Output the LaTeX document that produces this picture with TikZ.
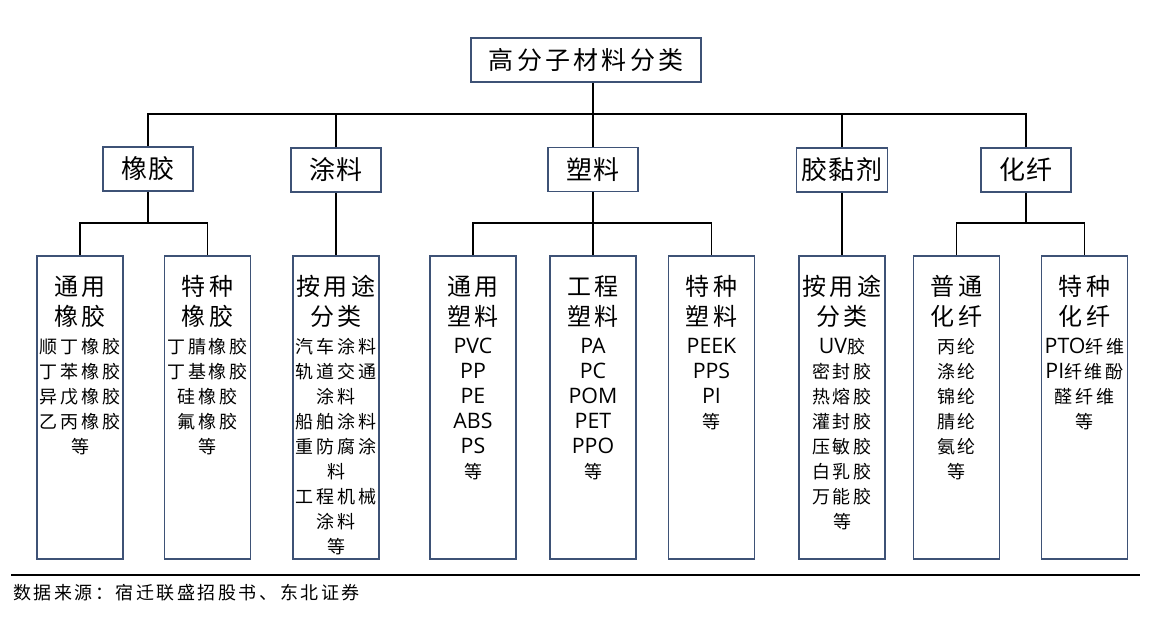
\documentclass[tikz,border=0pt]{standalone}
\usepackage{fontspec}
\usetikzlibrary{calc}
\setmainfont{Open Sans}
\newfontfamily\cjktop[LetterSpace=13]{Noto Sans CJK SC}
\newfontfamily\cjkmid[LetterSpace=4]{Noto Sans CJK SC}
\newfontfamily\cjktit[LetterSpace=14]{Noto Sans CJK SC}
\newfontfamily\cjkitm[LetterSpace=15]{Noto Sans CJK SC}
\newfontfamily\cjksrc[LetterSpace=14]{Noto Sans CJK SC}
\newfontfamily\latitm{Open Sans}
\definecolor{boxblue}{RGB}{62,82,118}
\newcommand\Ltitle{\cjktit\fontsize{18pt}{18pt}\selectfont}
\newcommand\Litem{\cjkitm\fontsize{13.5pt}{13.5pt}\selectfont}
\newcommand\Llat{\latitm\fontsize{16pt}{16pt}\selectfont}
\newcommand\leafrow[1]{\hbox to 64.5pt{\hss#1\hss}}
\newcommand\Lbody[1]{\vtop{\lineskiplimit=-\maxdimen\baselineskip=22.5pt #1}}
\newcommand\Lfirst{\baselineskip=21.6pt }
\newcommand\Lrest{\baselineskip=18.75pt }
\tikzset{
  x=0.75pt, y=-0.75pt,
  topbox/.style={draw=boxblue, line width=1.4pt, minimum width=172.5pt, minimum height=33pt, inner sep=0pt,
    font=\cjktop\fontsize{18.75pt}{18.75pt}\selectfont},
  midbox/.style={draw=boxblue, line width=1.4pt, minimum width=67.5pt, minimum height=33pt, inner sep=0pt,
    font=\cjkmid\fontsize{19.5pt}{19.5pt}\selectfont},
  leafbox/.style={draw=boxblue, line width=1.4pt, minimum width=64.5pt, minimum height=227.25pt, inner sep=0pt},
  leaftext/.style={anchor=base, inner sep=0pt},
  conn/.style={draw=black, line width=1.2pt},
}
\begin{document}
\begin{tikzpicture}
\useasboundingbox (0,0) rectangle (1154,627);
% top
\node[topbox] (top) at (586,60) {高分子材料分类};
% level 2
\node[midbox] (rb) at (148,169) {橡胶};
\node[midbox] (tl) at (336,170) {涂料};
\node[midbox] (pl) at (593,169.5) {塑料};
\node[midbox, minimum width=68.25pt] (jn) at (842,170) {胶黏剂};
\node[midbox] (hx) at (1026,170) {化纤};
% leaves
\node[leafbox] (l1) at (80,407.5) {};
\node[leafbox] (l2) at (207.5,407.5) {};
\node[leafbox] (l3) at (336,407.5) {};
\node[leafbox] (l4) at (473,407.5) {};
\node[leafbox] (l5) at (593,407.5) {};
\node[leafbox] (l6) at (711.5,407.5) {};
\node[leafbox] (l7) at (842,407.5) {};
\node[leafbox] (l8) at (956.5,407.5) {};
\node[leafbox] (l9) at (1084.5,407.5) {};
% leaf texts
\node[leaftext] (t1) at ($(l1.north)+(0,40)$) {\Lbody{\leafrow{\Ltitle 通用}\leafrow{\Ltitle 橡胶}\Lfirst
  \leafrow{\Litem 顺丁橡胶}\Lrest\leafrow{\Litem 丁苯橡胶}\leafrow{\Litem 异戊橡胶}\leafrow{\Litem 乙丙橡胶}\leafrow{\Litem 等}}};
\node[leaftext] (t2) at ($(l2.north)+(0,40)$) {\Lbody{\leafrow{\Ltitle 特种}\leafrow{\Ltitle 橡胶}\Lfirst
  \leafrow{\Litem 丁腈橡胶}\Lrest\leafrow{\Litem 丁基橡胶}\leafrow{\Litem 硅橡胶}\leafrow{\Litem 氟橡胶}\leafrow{\Litem 等}}};
\node[leaftext] (t3) at ($(l3.north)+(0,40)$) {\Lbody{\leafrow{\Ltitle 按用途}\leafrow{\Ltitle 分类}\Lfirst
  \leafrow{\Litem 汽车涂料}\Lrest\leafrow{\Litem 轨道交通}\leafrow{\Litem 涂料}\leafrow{\Litem 船舶涂料}\leafrow{\Litem 重防腐涂}\leafrow{\Litem 料}\leafrow{\Litem 工程机械}\leafrow{\Litem 涂料}\leafrow{\Litem 等}}};
\node[leaftext] (t4) at ($(l4.north)+(0,40)$) {\Lbody{\leafrow{\Ltitle 通用}\leafrow{\Ltitle 塑料}\Lfirst
  \leafrow{\Llat PVC}\Lrest\leafrow{\Llat PP}\leafrow{\Llat PE}\leafrow{\Llat ABS}\leafrow{\Llat PS}\leafrow{\Litem 等}}};
\node[leaftext] (t5) at ($(l5.north)+(0,40)$) {\Lbody{\leafrow{\Ltitle 工程}\leafrow{\Ltitle 塑料}\Lfirst
  \leafrow{\Llat PA}\Lrest\leafrow{\Llat PC}\leafrow{\Llat POM}\leafrow{\Llat PET}\leafrow{\Llat PPO}\leafrow{\Litem 等}}};
\node[leaftext] (t6) at ($(l6.north)+(0,40)$) {\Lbody{\leafrow{\Ltitle 特种}\leafrow{\Ltitle 塑料}\Lfirst
  \leafrow{\Llat PEEK}\Lrest\leafrow{\Llat PPS}\leafrow{\Llat PI}\leafrow{\Litem 等}}};
\node[leaftext] (t7) at ($(l7.north)+(0,40)$) {\Lbody{\leafrow{\Ltitle 按用途}\leafrow{\Ltitle 分类}\Lfirst
  \leafrow{\Llat UV\Litem 胶}\Lrest\leafrow{\Litem 密封胶}\leafrow{\Litem 热熔胶}\leafrow{\Litem 灌封胶}\leafrow{\Litem 压敏胶}\leafrow{\Litem 白乳胶}\leafrow{\Litem 万能胶}\leafrow{\Litem 等}}};
\node[leaftext] (t8) at ($(l8.north)+(0,40)$) {\Lbody{\leafrow{\Ltitle 普通}\leafrow{\Ltitle 化纤}\Lfirst
  \leafrow{\Litem 丙纶}\Lrest\leafrow{\Litem 涤纶}\leafrow{\Litem 锦纶}\leafrow{\Litem 腈纶}\leafrow{\Litem 氨纶}\leafrow{\Litem 等}}};
\node[leaftext] (t9) at ($(l9.north)+(0,40)$) {\Lbody{\leafrow{\Ltitle 特种}\leafrow{\Ltitle 化纤}\Lfirst
  \leafrow{\Llat PTO\Litem 纤维}\Lrest\leafrow{\Llat PI\Litem 纤维酚}\leafrow{\Litem 醛纤维}\leafrow{\Litem 等}}};
% connectors
\coordinate (bus) at (0,114);
\coordinate (sb) at (0,223);
\draw[conn] (top.south -| pl.north) -- (pl.north);
\draw[conn] (rb.north) -- (rb.north |- bus) -- (hx.north |- bus) -- (hx.north);
\draw[conn] (tl.north) -- (tl.north |- bus);
\draw[conn] (jn.north) -- (jn.north |- bus);
\draw[conn] (rb.south) -- (rb.south |- sb);
\draw[conn] (l1.north) -- (l1.north |- sb) -- (l2.north |- sb) -- (l2.north);
\draw[conn] (tl.south) -- (l3.north);
\draw[conn] (pl.south) -- (l5.north);
\draw[conn] (l4.north) -- (l4.north |- sb) -- (l6.north |- sb) -- (l6.north);
\draw[conn] (jn.south) -- (l7.north);
\draw[conn] (hx.south) -- (hx.south |- sb);
\draw[conn] (l8.north) -- (l8.north |- sb) -- (l9.north |- sb) -- (l9.north);
% source line
\coordinate (r1) at (11,575);
\coordinate (r2) at (1140,575);
\draw[line width=1.5pt] (r1) -- (r2);
\node[anchor=west, inner sep=0pt] (src) at (13,593) {\cjksrc\fontsize{13.5pt}{13.5pt}\selectfont 数据来源：宿迁联盛招股书、东北证券};
\end{tikzpicture}
\end{document}
